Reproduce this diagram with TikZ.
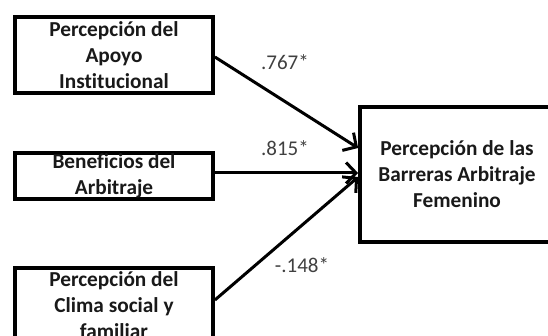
\documentclass[tikz,border=0pt]{standalone}
\usepackage{fontspec}
\setmainfont{Carlito}[Ligatures=NoCommon]
\usetikzlibrary{arrows.meta}
\begin{document}
\begin{tikzpicture}[x=1pt,y=-1pt,
  box/.style={draw, line width=3.8pt, inner sep=0pt, align=center,
    font=\bfseries\fontsize{21.3}{26}\selectfont, text=black!90},
  arr/.style={line width=3pt, -{Straight Barb[length=10pt,width=21pt,line width=3pt]}},
  lbl/.style={font=\fontsize{21}{24}\selectfont, text=black!75, inner sep=0pt}]
\useasboundingbox (0,0) rectangle (548,336);
\clip (0,0) rectangle (548,336);
\node[box, minimum width=198pt, minimum height=76pt] (b1) at (114,55)
  {Percepción del\\Apoyo\\Institucional};
\node[box, minimum width=198pt, minimum height=46pt] (b2) at (114,176)
  {Beneficios del\\Arbitraje};
\node[box, minimum width=198pt, minimum height=74pt] (b3) at (114,305)
  {Percepción del\\Clima social y\\familiar};
\node[box, minimum width=194pt, minimum height=135pt] (rb) at (457,174.5)
  {Percepción de las\\Barreras Arbitraje\\Femenino};
\draw[arr] ([yshift=-2pt]b1.east) -- ([yshift=26.5pt]rb.west);
\draw[arr] ([yshift=3pt]b2.east) -- ([yshift=1.5pt]rb.west);
\draw[arr] ([yshift=5pt]b3.east) -- ([yshift=-2.5pt]rb.west);
\node[lbl] (l1) at (285,62) {.767*};
\node[lbl] (l2) at (285,148) {.815*};
\node[lbl] (l3) at (302,265) {-.148*};
\end{tikzpicture}
\end{document}
